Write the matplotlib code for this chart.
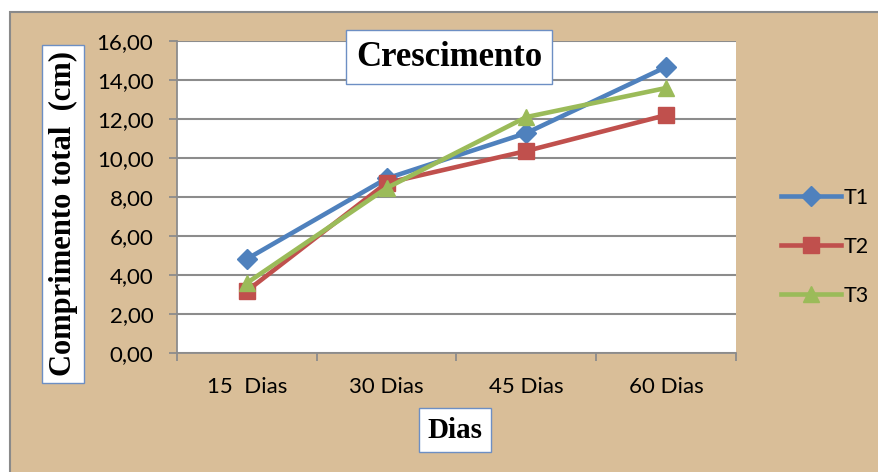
import matplotlib.pyplot as plt
from matplotlib.patches import Rectangle

dias = ['15  Dias', '30 Dias', '45 Dias', '60 Dias']
t1 = [4.82, 8.95, 11.28, 14.67]
t2 = [3.18, 8.72, 10.36, 12.20]
t3 = [3.59, 8.46, 12.10, 13.59]

tick_font = 'Lato'

fig = plt.figure(figsize=(8.79, 4.72), dpi=100)
fig.patch.set_facecolor('white')

# fundo (imagem de areia no original)
bg = fig.add_axes([0, 0, 1, 1], zorder=-1)
bg.set_xlim(0, 879)
bg.set_ylim(472, 0)
bg.axis('off')
bg.add_patch(Rectangle((10, 12), 880, 470, facecolor='#D9BE98', edgecolor='#8a8a8a', lw=1.5))

ax = fig.add_axes([177 / 879, 119 / 472, 559 / 879, 312 / 472])
ax.set_facecolor('white')

x = range(len(dias))
ax.plot(x, t1, color='#4F81BD', lw=3.3, marker='D', ms=10, label='T1', zorder=3)
ax.plot(x, t2, color='#C0504D', lw=3.3, marker='s', ms=11, label='T2', zorder=3)
ax.plot(x, t3, color='#9BBB59', lw=3.3, marker='^', ms=12, label='T3', zorder=4)

ax.set_xlim(-0.5, 3.5)
ax.set_ylim(0, 16)
ax.set_yticks(range(0, 17, 2))
ax.set_yticklabels(['%d,00' % v for v in range(0, 17, 2)], fontsize=16, family=tick_font)
ax.yaxis.grid(True, color='#8c8c8c', lw=1.5)
ax.set_axisbelow(True)

ax.set_xticks([-0.5, 0.5, 1.5, 2.5, 3.5])
ax.set_xticklabels([])
ax.set_xticks(list(x), minor=True)
ax.set_xticklabels(dias, minor=True, fontsize=16, family=tick_font)
ax.tick_params(axis='x', which='minor', length=0, pad=17)
ax.tick_params(axis='x', which='major', length=6, color='#8c8c8c', width=1.3)
ax.tick_params(axis='y', length=6, color='#8c8c8c', width=1.3, pad=11)

for s in ['top', 'right']:
    ax.spines[s].set_visible(False)
for s in ['left', 'bottom']:
    ax.spines[s].set_color('#8c8c8c')
    ax.spines[s].set_linewidth(1.3)

box = dict(boxstyle='square,pad=0.3', facecolor='white', edgecolor='#6d8fc4', lw=1)
fig.text(449 / 879, 1 - 57 / 472, 'Crescimento', ha='center', va='center', fontsize=25,
         fontweight='bold', family='Liberation Serif', bbox=box, zorder=5)
fig.text(63 / 879, 1 - 214 / 472, 'Comprimento total  (cm)', ha='center', va='center',
         rotation=90, fontsize=22, fontweight='bold', family='Liberation Serif',
         bbox=dict(boxstyle='square,pad=0.2', facecolor='white', edgecolor='#6d8fc4', lw=1))
fig.text(455 / 879, 1 - 430 / 472, 'Dias', ha='center', va='center', fontsize=21,
         fontweight='bold', family='Liberation Serif', bbox=box)

leg = ax.legend(loc='center left', bbox_to_anchor=(1.045, 0.34), frameon=False,
                prop={'family': tick_font, 'size': 15.5}, handlelength=2.8,
                handletextpad=0.15, labelspacing=1.35)

fig.savefig('out.png', dpi=100)
